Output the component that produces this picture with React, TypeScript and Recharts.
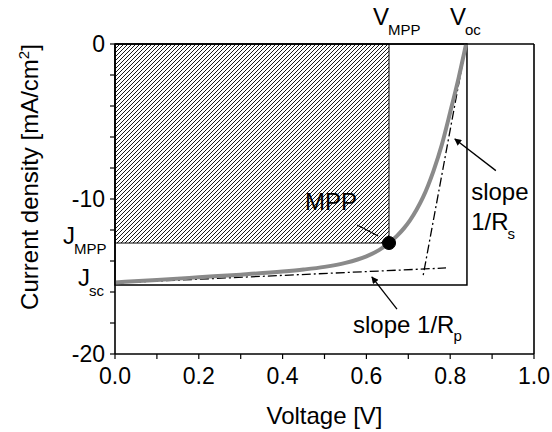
import React from 'react';
import { ComposedChart, Line, XAxis, YAxis, ReferenceArea, ReferenceDot } from 'recharts';

// J-V curve of the solar cell (voltage V, current density mA/cm2)
const jvCurve = [
  { v: 0.0, j: -15.38 },
  { v: 0.1, j: -15.22 },
  { v: 0.2, j: -15.05 },
  { v: 0.3, j: -14.88 },
  { v: 0.4, j: -14.68 },
  { v: 0.45, j: -14.55 },
  { v: 0.5, j: -14.38 },
  { v: 0.55, j: -14.12 },
  { v: 0.6, j: -13.7 },
  { v: 0.63, j: -13.3 },
  { v: 0.654, j: -12.84 },
  { v: 0.673, j: -12.38 },
  { v: 0.69, j: -11.88 },
  { v: 0.704, j: -11.38 },
  { v: 0.72, j: -10.68 },
  { v: 0.735, j: -9.9 },
  { v: 0.76, j: -8.2 },
  { v: 0.78, j: -6.5 },
  { v: 0.8, j: -4.4 },
  { v: 0.82, j: -2.2 },
  { v: 0.838, j: 0 },
];

const rpTangent = [{ v: 0, j: -15.42 }, { v: 0.79, j: -14.45 }];
const rsTangent = [{ v: 0.838, j: 0 }, { v: 0.735, j: -15.0 }];

const mppArrow = [{ v: 0.578, j: -11.68 }, { v: 0.628, j: -12.39 }];
const rsArrow = [{ v: 0.909, j: -8.17 }, { v: 0.811, j: -6.13 }];
const rpArrow = [{ v: 0.673, j: -17.1 }, { v: 0.613, j: -15.03 }];

const V_MPP = 0.654;
const J_MPP = -12.84;
const V_OC = 0.84;
const J_SC = -15.55;

const xTicks = [0, 0.1, 0.2, 0.3, 0.4, 0.5, 0.6, 0.7, 0.8, 0.9, 1.0];
const yTicks = [-20, -18, -16, -14, -12, -10, -8, -6, -4, -2, 0];
const xMajor = [0, 0.2, 0.4, 0.6, 0.8, 1.0];
const yMajor = [-20, -10, 0];

const notes = [
  { v: V_MPP, j: 0, dx: -16, dy: -19, text: 'V', sub: 'MPP', subDy: 10 },
  { v: V_OC, j: 0, dx: -17, dy: -19, text: 'V', sub: 'oc', subDy: 10 },
  { v: 0, j: J_MPP, dx: -52, dy: 1, text: 'J', sub: 'MPP', subDy: 10 },
  { v: 0, j: J_SC, dx: -37, dy: 1, text: 'J', sub: 'sc', subDy: 10 },
  { v: 0.4535, j: -10.71, dx: 0, dy: 0, text: 'MPP' },
  { v: 0.85, j: -10.06, dx: 0, dy: 0, text: 'slope' },
  { v: 0.85, j: -12.0, dx: 0, dy: 0, text: '1/R', sub: 's', subDy: 9 },
  { v: 0.568, j: -18.65, dx: 0, dy: 0, text: 'slope 1/R', sub: 'p', subDy: 8 },
];

const FONT = '"Liberation Sans", Arial, sans-serif';

const fmtX = (v: number) => (xMajor.some((m) => Math.abs(m - v) < 1e-6) ? v.toFixed(1) : '');
const fmtY = (v: number) => (yMajor.includes(v) ? String(v) : '');

const YLabel = (props: any) => {
  const vb = props.viewBox || {};
  const cy = vb.y + vb.height / 2 - 22;
  return (
    <text
      x={38}
      y={cy}
      transform={`rotate(-90, 38, ${cy})`}
      textAnchor="middle"
      fontSize={24}
      fontFamily={FONT}
      fill="#000"
    >
      Current density [mA/cm<tspan dy={-9} fontSize={15}>2</tspan>
      <tspan dy={9}>]</tspan>
    </text>
  );
};

export default function App() {
  const axisLine = { stroke: '#000', strokeWidth: 1.6 };
  const tickLine = { stroke: '#000', strokeWidth: 1.2 };
  const tickStyle = { fontSize: 23, fill: '#000', fontFamily: FONT };
  return (
    <div style={{ position: 'absolute', left: 0, top: 0, background: '#fff' }}>
      <ComposedChart
        width={552}
        height={432}
        margin={{ top: 44, right: 18, bottom: 0, left: 0 }}
        style={{ fontFamily: FONT }}
      >
        <defs>
          <pattern id="hatch" patternUnits="userSpaceOnUse" width={4} height={4}>
            <path d="M-1,1 L1,-1 M0,4 L4,0 M3,5 L5,3" stroke="#000" strokeWidth={0.9} />
          </pattern>
          <marker
            id="arrow"
            viewBox="0 0 10 10"
            refX={9}
            refY={5}
            markerWidth={8}
            markerHeight={7}
            orient="auto"
            markerUnits="userSpaceOnUse"
          >
            <path d="M0,0 L10,5 L0,10 z" fill="#000" />
          </marker>
        </defs>
        <XAxis
          type="number"
          dataKey="v"
          domain={[0, 1]}
          ticks={xTicks}
          interval={0}
          tickFormatter={fmtX}
          height={78}
          tickSize={5}
          tickMargin={9}
          axisLine={axisLine}
          tickLine={tickLine}
          tick={tickStyle}
          label={{
            value: 'Voltage [V]',
            position: 'insideBottom',
            offset: 8,
            fontSize: 24,
            fill: '#000',
            fontFamily: FONT,
          }}
        />
        <XAxis
          xAxisId="top"
          type="number"
          orientation="top"
          mirror
          domain={[0, 1]}
          ticks={xTicks}
          interval={0}
          tick={false}
          tickSize={4}
          axisLine={axisLine}
          tickLine={tickLine}
        />
        <YAxis
          type="number"
          domain={[-20, 0]}
          ticks={yTicks}
          interval={0}
          tickFormatter={fmtY}
          width={115}
          tickSize={5}
          tickMargin={5}
          axisLine={axisLine}
          tickLine={tickLine}
          tick={tickStyle}
          label={YLabel}
        />
        <YAxis
          yAxisId="right"
          type="number"
          orientation="right"
          mirror
          domain={[-20, 0]}
          ticks={yTicks}
          interval={0}
          tick={false}
          tickSize={4}
          axisLine={axisLine}
          tickLine={tickLine}
        />
        <ReferenceArea
          x1={0}
          x2={V_MPP}
          y1={J_MPP}
          y2={0}
          fill="url(#hatch)"
          fillOpacity={1}
          stroke="#000"
          strokeWidth={1}
        />
        <ReferenceArea
          x1={0}
          x2={V_OC}
          y1={J_SC}
          y2={0}
          fill="none"
          fillOpacity={0}
          stroke="#000"
          strokeWidth={1.5}
        />
        <Line
          data={rpTangent}
          dataKey="j"
          type="linear"
          stroke="#000"
          strokeWidth={1.3}
          strokeDasharray="9 3 2 3"
          dot={false}
          activeDot={false}
          isAnimationActive={false}
        />
        <Line
          data={rsTangent}
          dataKey="j"
          type="linear"
          stroke="#000"
          strokeWidth={1.3}
          strokeDasharray="9 3 2 3"
          dot={false}
          activeDot={false}
          isAnimationActive={false}
        />
        <Line
          data={jvCurve}
          dataKey="j"
          type="monotone"
          stroke="#8a8a8a"
          strokeWidth={4}
          dot={false}
          activeDot={false}
          isAnimationActive={false}
        />
        {[mppArrow, rsArrow, rpArrow].map((a, i) => (
          <Line
            key={i}
            data={a}
            dataKey="j"
            type="linear"
            stroke="#000"
            strokeWidth={1.3}
            markerEnd={i === 0 ? undefined : 'url(#arrow)'}
            dot={false}
            activeDot={false}
            isAnimationActive={false}
          />
        ))}
        <ReferenceDot x={V_MPP} y={J_MPP} r={6.5} fill="#000" stroke="#000" ifOverflow="visible" />
        {notes.map((n, i) => (
          <ReferenceDot
            key={'n' + i}
            x={n.v}
            y={n.j}
            r={1}
            ifOverflow="visible"
            shape={(p: any) => (
              <text
                x={p.cx + n.dx}
                y={p.cy + n.dy}
                fontSize={24}
                fontFamily={FONT}
                fill="#000"
              >
                {n.text}
                {n.sub ? (
                  <tspan dy={n.subDy} dx={-1} fontSize={15}>
                    {n.sub}
                  </tspan>
                ) : null}
              </text>
            )}
          />
        ))}
      </ComposedChart>
    </div>
  );
}
